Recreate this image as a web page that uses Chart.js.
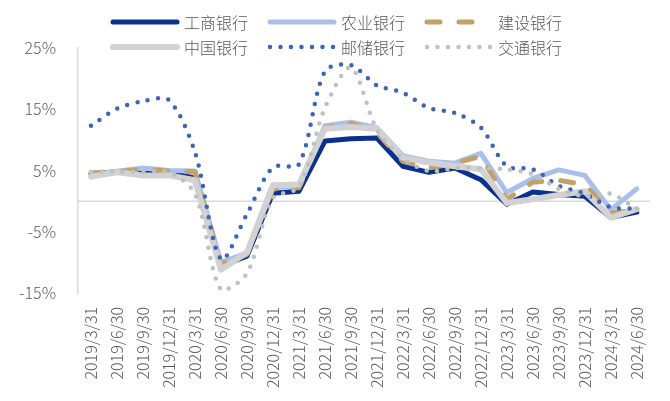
<!DOCTYPE html>
<html>
<head>
<meta charset="utf-8">
<script src="https://cdn.jsdelivr.net/npm/chart.js@4.4.1/dist/chart.umd.min.js"></script>
<style>
  html, body { margin: 0; padding: 0; background: #fff; }
  #wrap { width: 670px; height: 401px; }
</style>
</head>
<body>
<div id="wrap"><canvas id="line-chart"></canvas></div>
<script>
// quarters
var labels = ['2019/3/31','2019/6/30','2019/9/30','2019/12/31','2020/3/31','2020/6/30','2020/9/30','2020/12/31',
  '2021/3/31','2021/6/30','2021/9/30','2021/12/31','2022/3/31','2022/6/30','2022/9/30','2022/12/31',
  '2023/3/31','2023/6/30','2023/9/30','2023/12/31','2024/3/31','2024/6/30'];

// growth, %
var icbc  = [4.4, 4.8, 4.6, 4.6, 3.8, -10.6, -9.0, 1.3, 1.6, 9.8, 10.2, 10.3, 5.7, 4.7, 5.4, 3.5, -0.5, 1.5, 1.1, 0.8, -2.7, -1.8];
var abc   = [4.3, 4.9, 5.4, 5.0, 4.9, -10.0, -8.5, 2.2, 2.5, 12.3, 12.9, 12.0, 7.4, 6.5, 6.2, 7.8, 1.4, 3.7, 5.1, 4.2, -1.4, 2.0];
var ccb   = [4.6, 4.8, 5.2, 4.9, 4.8, -10.3, -8.7, 2.0, 2.2, 12.0, 12.7, 11.2, 6.5, 5.4, 6.2, 7.3, 0.3, 3.1, 3.4, 2.7, -1.9, -1.5];
var boc   = [4.0, 4.7, 4.2, 4.2, 3.4, -11.2, -8.4, 2.6, 2.7, 11.8, 12.1, 11.8, 7.1, 6.3, 5.7, 5.2, -0.3, 0.3, 1.0, 1.6, -2.7, -1.3];
var psbc  = [12.3, 15.1, 16.3, 16.5, 8.0, -9.5, -2.1, 5.5, 6.0, 21.2, 22.2, 18.9, 17.7, 15.2, 14.4, 12.0, 5.7, 5.2, 2.5, 1.2, -1.0, -1.2];
var bocom = [4.8, 4.8, 4.8, 4.7, 1.2, -14.5, -11.8, 0.5, 2.3, 15.2, 21.8, 11.7, 7.0, 4.9, 5.4, 5.4, 5.2, 4.4, 2.0, 0.8, 1.2, -1.3];

var yTicks = [-15, -5, 5, 15, 25];

var FONT = "'Noto Sans CJK SC', 'Noto Sans', sans-serif";
var TXT = '#595959';

// zero line
var zeroLine = {
  id: 'zeroLine',
  beforeDatasetsDraw: function(chart) {
    var ctx = chart.ctx, a = chart.chartArea;
    var y = chart.scales.y.getPixelForValue(0);
    ctx.save();
    ctx.strokeStyle = '#d9d9d9';
    ctx.lineWidth = 1.5;
    ctx.beginPath();
    ctx.moveTo(a.left, y);
    ctx.lineTo(a.right, y);
    ctx.stroke();
    ctx.restore();
  }
};

// legend, 3 per row like the excel one
var legendBox = {
  id: 'legendBox',
  afterDraw: function(chart) {
    var ctx = chart.ctx;
    var x0 = 113, colW = 157, rowY = [22, 47];
    ctx.save();
    ctx.font = '300 16px ' + FONT;
    ctx.textBaseline = 'middle';
    chart.data.datasets.forEach(function(ds, i) {
      var x = x0 + (i % 3) * colW, y = rowY[Math.floor(i / 3)];
      var dash = ds.borderDash || [];
      var len = (dash.length && dash[0] > 0) ? 50 : 64;
      ctx.strokeStyle = ds.borderColor;
      ctx.lineWidth = ds.borderWidth;
      ctx.lineCap = ds.borderCapStyle || 'butt';
      ctx.setLineDash(dash);
      ctx.beginPath();
      ctx.moveTo(x, y);
      ctx.lineTo(x + len, y);
      ctx.stroke();
      ctx.setLineDash([]);
      ctx.fillStyle = TXT;
      ctx.fillText(ds.label, x + 71, y + 1);
    });
    ctx.restore();
  }
};

function series(label, data, color, width, extra) {
  var d = {
    label: label, data: data, borderColor: color, backgroundColor: color,
    borderWidth: width, pointRadius: 0, tension: 0, fill: false,
    borderCapStyle: 'round', borderJoinStyle: 'round'
  };
  for (var k in extra) d[k] = extra[k];
  return d;
}

new Chart(document.getElementById('line-chart'), {
  type: 'line',
  data: {
    labels: labels,
    datasets: [
      series('工商银行', icbc, '#0b318f', 5, { order: 5 }),
      series('农业银行', abc, '#a9c1ea', 5, { order: 4 }),
      series('建设银行', ccb, '#c4a06a', 5, { order: 3, borderDash: [13, 19] }),
      series('中国银行', boc, '#d2d2d2', 6, { order: 2 }),
      series('邮储银行', psbc, '#3b65b5', 4.5, { order: 1, borderDash: [0, 10.5], tension: 0.3 }),
      series('交通银行', bocom, '#c0c0c0', 4.5, { order: 0, borderDash: [0, 10.5], tension: 0.3 })
    ]
  },
  options: {
    responsive: true,
    maintainAspectRatio: false,
    animation: false,
    layout: { padding: { top: 48, left: 0, right: -3, bottom: 0 } },
    plugins: { legend: { display: false }, tooltip: { enabled: false } },
    scales: {
      x: {
        offset: true,
        grid: { display: false, drawTicks: false },
        border: { display: false },
        ticks: {
          autoSkip: false, minRotation: 90, maxRotation: 90, padding: 14,
          color: TXT, font: { family: FONT, size: 16, weight: 300 }
        },
        afterFit: function(s) { s.height = 108; }
      },
      y: {
        min: -15, max: 25,
        afterBuildTicks: function(s) { s.ticks = yTicks.map(function(v) { return { value: v }; }); },
        grid: { display: false, drawTicks: false },
        border: { display: true, color: '#d9d9d9', width: 1.5 },
        ticks: {
          padding: 22, color: TXT, font: { family: FONT, size: 16, weight: 300 },
          callback: function(v) { return v + '%'; }
        },
        afterFit: function(s) { s.width = 78; }
      }
    }
  },
  plugins: [zeroLine, legendBox]
});
</script>
</body>
</html>
